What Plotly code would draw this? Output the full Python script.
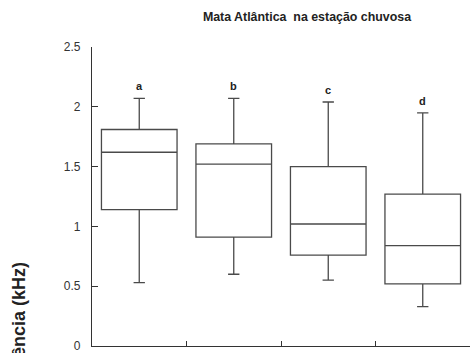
import plotly.graph_objects as go

# Summary statistics per group (kHz)
groups = ["a", "b", "c", "d"]
upper_whisker = [2.07, 2.07, 2.04, 1.95]
q3_values = [1.81, 1.69, 1.50, 1.27]
medians = [1.62, 1.52, 1.02, 0.84]
q1_values = [1.14, 0.91, 0.76, 0.52]
lower_whisker = [0.53, 0.60, 0.55, 0.33]
y_ticks = [0, 0.5, 1, 1.5, 2, 2.5]
y_tick_labels = ["0", "0.5", "1", "1.5", "2", "2.5"]

positions = list(range(len(groups)))

fig = go.Figure()
fig.add_trace(go.Box(
    x=positions,
    q1=q1_values,
    median=medians,
    q3=q3_values,
    lowerfence=lower_whisker,
    upperfence=upper_whisker,
    width=0.8,
    whiskerwidth=0.15,
    fillcolor="rgba(255,255,255,0)",
    line=dict(color="#4a4a4a", width=1.3),
    boxpoints=False,
    hoverinfo="skip",
    showlegend=False,
))

# Group letters above each upper whisker
for pos, label, top in zip(positions, groups, upper_whisker):
    fig.add_annotation(
        x=pos, y=top, text=f"<b>{label}</b>", showarrow=False,
        xref="x", yref="y", yanchor="middle", yshift=12,
        font=dict(family="Liberation Sans", size=11, color="#222222"),
    )

# Vertical axis label, set low at the left edge
fig.add_annotation(
    text="<b>Frequência (kHz)</b>", textangle=-90,
    xref="paper", yref="paper", x=-0.193, y=0.286,
    xanchor="center", yanchor="top", showarrow=False,
    font=dict(family="Liberation Sans", size=18, color="#222222"),
)

fig.update_layout(
    width=470, height=353,
    margin=dict(l=92, r=0, t=47, b=5),
    paper_bgcolor="white", plot_bgcolor="white",
    title=dict(
        text="<b>Mata Atlântica  na estação chuvosa</b>",
        xref="container", yref="container",
        x=307 / 470, y=1 - 17 / 353, xanchor="center", yanchor="middle",
        font=dict(family="Liberation Sans", size=12.4, color="#222222"),
    ),
    xaxis=dict(
        range=[-0.5, 3.5], showgrid=False, zeroline=False,
        showline=True, linecolor="#333", linewidth=1.3,
        tickmode="array", tickvals=[-0.5, 0.5, 1.5, 2.5, 3.5],
        ticktext=["", "", "", "", ""], ticks="inside", ticklen=5,
        tickcolor="#333", tickwidth=1.3,
    ),
    yaxis=dict(
        range=[0, 2.5], showgrid=False, zeroline=False,
        showline=True, linecolor="#333", linewidth=1.3,
        tickmode="array", tickvals=y_ticks, ticktext=y_tick_labels,
        ticks="inside", ticklen=6, tickcolor="#333", tickwidth=1.3,
        ticklabeloverflow="allow", ticklabelstandoff=8,
        tickfont=dict(family="Liberation Sans", size=12, color="#333"),
    ),
)

fig.write_html("out.html")
